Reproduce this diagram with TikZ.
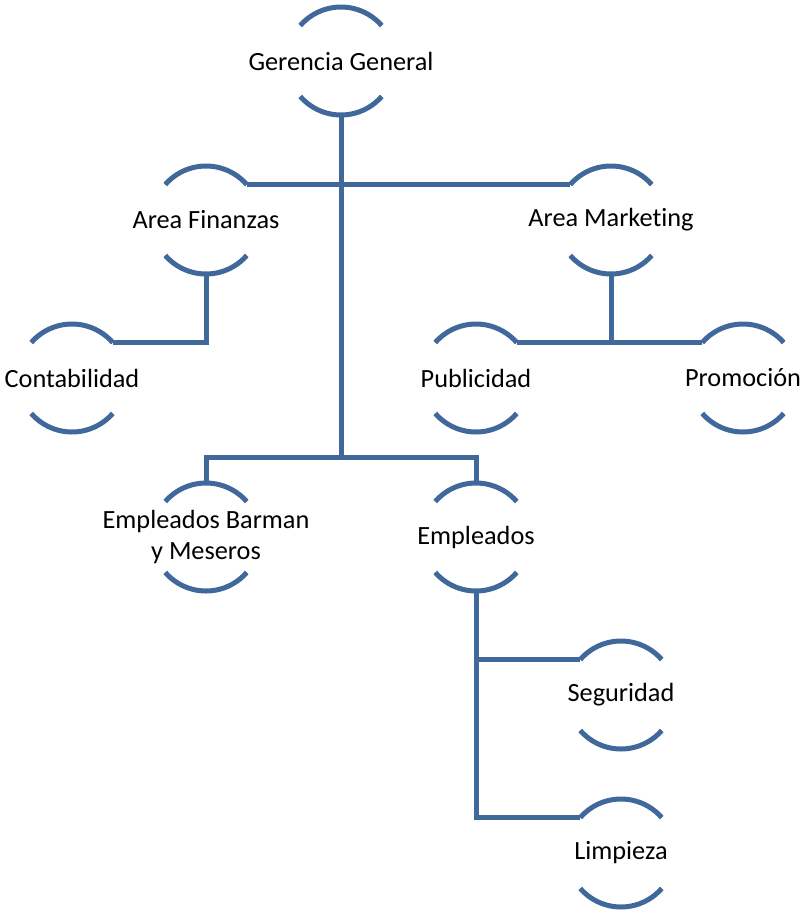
\documentclass[tikz,border=0pt]{standalone}
\usepackage{fontspec}
\setmainfont{Carlito}[Ligatures={NoCommon}]
\definecolor{orgblue}{RGB}{64,104,155}
\begin{document}
\begin{tikzpicture}[x=1pt, y=1pt,
    unit/.style={circle, minimum size=108pt, inner sep=0pt, outer sep=0pt},
    unittext/.style={font=\fontsize{26.3}{31}\selectfont, align=center, inner sep=0pt},
    arcline/.style={orgblue, line width=5pt},
    link/.style={orgblue, line width=5pt}]
    \useasboundingbox (0,0) rectangle (804,-914);

    % Units of the chart
    \node[unit, label={[unittext]center:Gerencia General}] (gg) at (341,-61) {};
    \node[unit, label={[unittext]center:Area Finanzas}] (af) at (206,-220) {};
    \node[unit, label={[unittext]center:Area Marketing}] (am) at (611,-220) {};
    \node[unit, label={[unittext]center:Contabilidad}] (cont) at (72,-378) {};
    \node[unit, label={[unittext]center:Publicidad}] (pub) at (476,-378) {};
    \node[unit, label={[unittext]center:Promoción}] (prom) at (743,-378) {};
    \node[unit, label={[unittext]center:Empleados Barman\\y Meseros}] (ebm) at (206,-537) {};
    \node[unit, label={[unittext]center:Empleados}] (emp) at (476,-537) {};
    \node[unit, label={[unittext]center:Seguridad}] (seg) at (621,-695) {};
    \node[unit, label={[unittext]center:Limpieza}] (lim) at (621,-853) {};

    % Top and bottom arcs round each unit
    \foreach \n in {gg,af,am,cont,pub,prom,ebm,emp,seg,lim} {
        \draw[arcline] (\n.139) arc[start angle=139, end angle=41, radius=54];
        \draw[arcline] (\n.-139) arc[start angle=-139, end angle=-41, radius=54];
    }

    % Connectors
    \coordinate (bus) at (341,-457);
    \draw[link] (gg.south) -- (bus);
    \draw[link] (af.41) -- (am.139);
    \draw[link] (af.south) |- (cont.41);
    \draw[link] (am.south) -- (am.south |- pub.41);
    \draw[link] (pub.41) -- (prom.139);
    \draw[link] (ebm.north) |- (bus) -| (emp.north);
    \draw[link] (emp.south) |- (seg.139);
    \draw[link] (emp.south) |- (lim.139);
\end{tikzpicture}
\end{document}
